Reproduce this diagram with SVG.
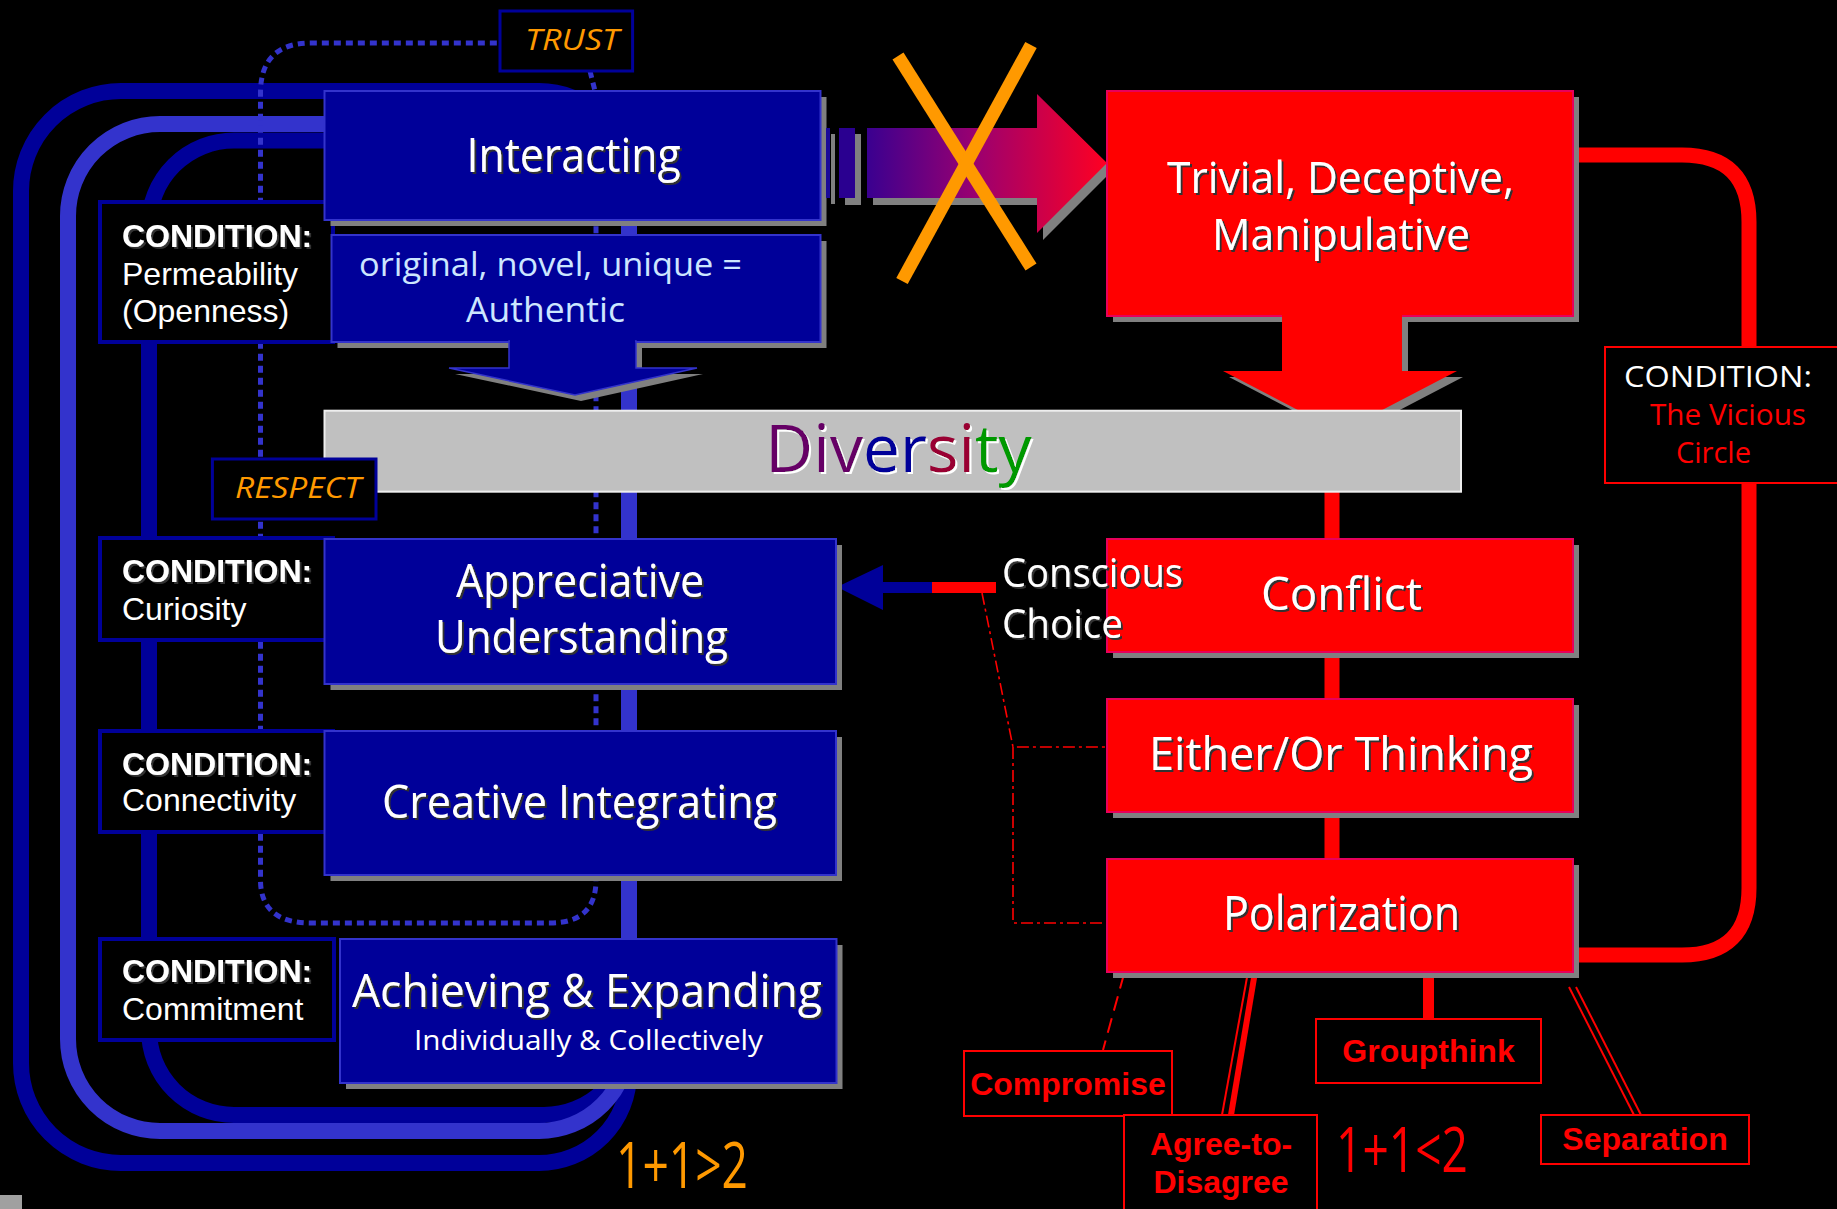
<svg xmlns="http://www.w3.org/2000/svg" width="1837" height="1209" viewBox="0 0 1837 1209">
<defs>
<style>
.bb{fill:#000099;stroke:#3333CC;stroke-width:2}
.rb{fill:#FF0000;stroke:#E8005A;stroke-width:2}
.sh{fill:#808080}
.cb{fill:#000000;stroke:#000099;stroke-width:4}
.rc{fill:#000000;stroke:#FF0000;stroke-width:2}
.t{font-family:"Open Sans","Noto Sans",sans-serif;fill:#FFFFFF;text-anchor:middle}
.a{font-family:"Liberation Sans",Arial,sans-serif}
.cw{fill:#FFFFFF;font-size:32px}
.rt{font-family:"Liberation Sans",Arial,sans-serif;font-weight:bold;font-size:32px;fill:#FF0000;text-anchor:middle}
.or{font-family:"Open Sans","Noto Sans",sans-serif;font-style:italic;fill:#FF9900;font-size:30px}
</style>
<filter id="ds" x="-5%" y="-10%" width="115%" height="130%"><feDropShadow dx="2" dy="2" stdDeviation="0.4" flood-color="#303030" flood-opacity="1"/></filter>
<filter id="dsw" x="-5%" y="-10%" width="115%" height="130%"><feDropShadow dx="2" dy="2" stdDeviation="0.3" flood-color="#FFFFFF" flood-opacity="1"/></filter>
<linearGradient id="grad" x1="0" y1="0" x2="1" y2="0">
<stop offset="0" stop-color="#3A0090"/>
<stop offset="0.45" stop-color="#9A0070"/>
<stop offset="1" stop-color="#FF0022"/>
</linearGradient>
</defs>
<rect x="0" y="0" width="1837" height="1209" fill="#000000"/>

<g id="connectors">
<path d="M121,91 H539 A90,90 0 0 1 629,181 V1073 A90,90 0 0 1 539,1163 H121 A100,100 0 0 1 21,1063 V191 A100,100 0 0 1 121,91 Z" fill="none" stroke="#000099" stroke-width="16"/>
<path d="M234,140.5 H544 A85,85 0 0 1 629,225.5 V1030 A85,85 0 0 1 544,1115 H234 A85,85 0 0 1 149,1030 V225.5 A85,85 0 0 1 234,140.5 Z" fill="none" stroke="#000099" stroke-width="16"/>
<path d="M160,124 H539 A90,90 0 0 1 629,214 V1041 A90,90 0 0 1 539,1131 H160 A92,92 0 0 1 68,1039 V216 A92,92 0 0 1 160,124 Z" fill="none" stroke="#3333CC" stroke-width="16"/>
<path d="M590,71 L596,95 V880 Q596,923 550,923 H311 Q260.5,923 260.5,880 V93 Q260.5,43 311,43 H500" fill="none" stroke="#3333CC" stroke-width="5" stroke-dasharray="7 5"/>
<path d="M1573,155 H1682 Q1749,155 1749,222 V888 Q1749,955 1682,955 H1574" fill="none" stroke="#FF0000" stroke-width="15"/>
<line x1="1332" y1="490" x2="1332" y2="860" stroke="#FF0000" stroke-width="15"/>
<path d="M982,593 L1013,747 H1107 M1013,747 V923 H1108" fill="none" stroke="#FF0000" stroke-width="1.6" stroke-dasharray="12 4 3 4"/>
<line x1="1124" y1="974" x2="1103" y2="1050" stroke="#FF0000" stroke-width="2" stroke-dasharray="15 8"/>
<line x1="1248" y1="972" x2="1222" y2="1115" stroke="#FF0000" stroke-width="2"/>
<line x1="1255" y1="972" x2="1231" y2="1115" stroke="#FF0000" stroke-width="6"/>
<line x1="1428.5" y1="972" x2="1428.5" y2="1019" stroke="#FF0000" stroke-width="11"/>
<line x1="1569" y1="987" x2="1634" y2="1115" stroke="#FF0000" stroke-width="2"/>
<line x1="1576" y1="987" x2="1641" y2="1115" stroke="#FF0000" stroke-width="2"/>
<polygon points="837,587 883,565 883,582 932,582 932,593 883,593 883,610" fill="#000099"/>
<rect x="932" y="582" width="64" height="11" fill="#FF0000"/>
</g>

<g id="cond-permeability">
<rect class="cb" x="100" y="202" width="233" height="140"/>
<text class="a cw" x="122" y="247" font-weight="bold" filter="url(#ds)">CONDITION:</text>
<text class="a cw" x="122" y="285">Permeability</text>
<text class="a cw" x="122" y="322">(Openness)</text>
</g>
<g id="cond-curiosity">
<rect class="cb" x="100" y="538" width="233" height="102"/>
<text class="a cw" x="122" y="582" font-weight="bold" filter="url(#ds)">CONDITION:</text>
<text class="a cw" x="122" y="620">Curiosity</text>
</g>
<g id="cond-connectivity">
<rect class="cb" x="100" y="731" width="233" height="101"/>
<text class="a cw" x="122" y="775" font-weight="bold" filter="url(#ds)">CONDITION:</text>
<text class="a cw" x="122" y="811">Connectivity</text>
</g>
<g id="cond-commitment">
<rect class="cb" x="100" y="939" width="234" height="101"/>
<text class="a cw" x="122" y="982" font-weight="bold" filter="url(#ds)">CONDITION:</text>
<text class="a cw" x="122" y="1020">Commitment</text>
</g>

<g id="trust">
<rect x="500" y="11" width="132.6" height="60" fill="#000000" stroke="#000099" stroke-width="3"/>
<text class="or" x="572" y="50" text-anchor="middle" textLength="94" lengthAdjust="spacingAndGlyphs">TRUST</text>
</g>

<g id="interacting">
<rect class="sh" x="330.5" y="97" width="496" height="129"/>
<rect class="bb" x="324.5" y="91" width="496" height="129"/>
<text class="t" x="573.6" y="172" font-size="48" textLength="214" lengthAdjust="spacingAndGlyphs" filter="url(#ds)">Interacting</text>
</g>
<g id="authentic">
<rect class="sh" x="337.5" y="241" width="489" height="107"/>
<polygon class="sh" points="515,348 642,348 642,374 703,374 581,401 455,374 515,374"/>
<rect class="bb" x="331.5" y="235" width="489" height="107"/>
<polygon points="509,341 636,341 636,368 697,368 575,395 449,368 509,368" fill="#000099" stroke="#3333CC" stroke-width="1.5"/>
<rect x="510" y="339" width="125" height="4" fill="#000099"/>
<text class="t" x="550.5" y="276" font-size="32" style="fill:#CCE6FF" textLength="383" lengthAdjust="spacingAndGlyphs">original, novel, unique =</text>
<text class="t" x="545.5" y="322" font-size="34" style="fill:#CCE6FF" textLength="159" lengthAdjust="spacingAndGlyphs">Authentic</text>
</g>

<g id="gradient-arrow">
<rect class="sh" x="831" y="134" width="4" height="70"/>
<rect class="sh" x="845" y="134" width="16" height="71"/>
<polygon class="sh" points="873,135 1043,135 1043,101 1113,170 1043,240 1043,205 873,205"/>
<rect x="826" y="128" width="4" height="70" fill="#1A0A99"/>
<rect x="839" y="128" width="16" height="70" fill="#2A0090"/>
<polygon points="867,128 1037,128 1037,94 1107,163 1037,233 1037,198 867,198" fill="url(#grad)"/>
</g>

<g id="trivial">
<rect class="sh" x="1113" y="97" width="466" height="225"/>
<polygon class="sh" points="1288,322 1408,322 1408,377 1463,377 1346,438 1229,377 1288,377"/>
<rect class="rb" x="1107" y="91" width="466" height="225"/>
<polygon points="1282,315 1402,315 1402,371 1457,371 1340,432 1223,371 1282,371" fill="#FF0000"/>
<text class="t" x="1340.5" y="193" font-size="43" textLength="347" lengthAdjust="spacingAndGlyphs" filter="url(#ds)">Trivial, Deceptive,</text>
<text class="t" x="1341" y="250" font-size="43" textLength="258" lengthAdjust="spacingAndGlyphs" filter="url(#ds)">Manipulative</text>
</g>

<g id="cross">
<line x1="898" y1="56" x2="1031" y2="267" stroke="#FF9900" stroke-width="13"/>
<line x1="1031" y1="45" x2="902" y2="281" stroke="#FF9900" stroke-width="13"/>
</g>

<g id="diversity">
<rect x="324.5" y="410.7" width="1136.5" height="81" fill="#C0C0C0" stroke="#EEEEEE" stroke-width="2"/>
<text x="898.5" y="472" font-family="Open Sans, Noto Sans, sans-serif" font-size="66" text-anchor="middle" filter="url(#dsw)"><tspan fill="#660066">Div</tspan><tspan fill="#000099">er</tspan><tspan fill="#990033">si</tspan><tspan fill="#009900">ty</tspan></text>
</g>

<g id="respect">
<rect x="212.4" y="459" width="163.6" height="60" fill="#000000" stroke="#000099" stroke-width="3"/>
<text class="or" x="298" y="498" text-anchor="middle" textLength="126" lengthAdjust="spacingAndGlyphs">RESPECT</text>
</g>

<g id="vicious">
<rect class="rc" x="1605" y="347" width="240" height="136"/>
<text x="1624" y="387" font-family="Open Sans, Noto Sans, sans-serif" font-size="30" fill="#FFFFFF" textLength="188" lengthAdjust="spacingAndGlyphs">CONDITION:</text>
<text x="1650" y="425" font-family="Open Sans, Noto Sans, sans-serif" font-size="30" fill="#FF0000" textLength="156" lengthAdjust="spacingAndGlyphs">The Vicious</text>
<text x="1676" y="463" font-family="Open Sans, Noto Sans, sans-serif" font-size="30" fill="#FF0000" textLength="75" lengthAdjust="spacingAndGlyphs">Circle</text>
</g>

<g id="appreciative">
<rect class="sh" x="330.5" y="545" width="511.5" height="145"/>
<rect class="bb" x="324.5" y="539" width="511.5" height="145"/>
<text class="t" x="580" y="597" font-size="46" textLength="248" lengthAdjust="spacingAndGlyphs" filter="url(#ds)">Appreciative</text>
<text class="t" x="581.5" y="653" font-size="46" textLength="293" lengthAdjust="spacingAndGlyphs" filter="url(#ds)">Understanding</text>
</g>
<g id="creative">
<rect class="sh" x="330.5" y="737" width="511.5" height="144"/>
<rect class="bb" x="324.5" y="731" width="511.5" height="144"/>
<text class="t" x="579.5" y="818" font-size="46" textLength="395" lengthAdjust="spacingAndGlyphs" filter="url(#ds)">Creative Integrating</text>
</g>
<g id="achieving">
<rect class="sh" x="346" y="945" width="496.5" height="144"/>
<rect class="bb" x="340" y="939" width="496.5" height="144"/>
<text class="t" x="587" y="1007" font-size="46" textLength="470" lengthAdjust="spacingAndGlyphs" filter="url(#ds)">Achieving &amp; Expanding</text>
<text class="t" x="588.5" y="1050" font-size="28" textLength="349" lengthAdjust="spacingAndGlyphs">Individually &amp; Collectively</text>
</g>

<g id="conflict">
<rect class="sh" x="1113" y="545" width="466" height="113"/>
<rect class="rb" x="1107" y="539" width="466" height="113"/>
<text class="t" x="1341.5" y="610" font-size="46" textLength="161" lengthAdjust="spacingAndGlyphs" filter="url(#ds)">Conflict</text>
</g>
<g id="conscious-choice">
<text x="1002" y="587" font-family="Open Sans, Noto Sans, sans-serif" font-size="40" fill="#FFFFFF" textLength="181" lengthAdjust="spacingAndGlyphs" filter="url(#ds)">Conscious</text>
<text x="1002" y="638" font-family="Open Sans, Noto Sans, sans-serif" font-size="40" fill="#FFFFFF" textLength="121" lengthAdjust="spacingAndGlyphs" filter="url(#ds)">Choice</text>
</g>
<g id="either-or">
<rect class="sh" x="1113" y="705" width="466" height="113"/>
<rect class="rb" x="1107" y="699" width="466" height="113"/>
<text class="t" x="1341" y="770" font-size="46" textLength="384" lengthAdjust="spacingAndGlyphs" filter="url(#ds)">Either/Or Thinking</text>
</g>
<g id="polarization">
<rect class="sh" x="1113" y="865" width="466" height="113"/>
<rect class="rb" x="1107" y="859" width="466" height="113"/>
<text class="t" x="1341.5" y="930" font-size="48" textLength="237" lengthAdjust="spacingAndGlyphs" filter="url(#ds)">Polarization</text>
</g>

<g id="compromise">
<rect class="rc" x="964" y="1051" width="208" height="65"/>
<text class="rt" x="1068" y="1095">Compromise</text>
</g>
<g id="agree">
<rect class="rc" x="1124" y="1115" width="193" height="100"/>
<text class="rt" x="1221" y="1155">Agree-to-</text>
<text class="rt" x="1221" y="1193">Disagree</text>
</g>
<g id="groupthink">
<rect class="rc" x="1316" y="1019" width="225" height="64"/>
<text class="rt" x="1428.5" y="1062">Groupthink</text>
</g>
<g id="separation">
<rect class="rc" x="1541" y="1115" width="208" height="49"/>
<text class="rt" x="1645" y="1150">Separation</text>
</g>

<g id="sum-greater">
<text x="616" y="1188" font-family="Open Sans, Noto Sans, sans-serif" font-size="64" fill="#FF9900" textLength="132" lengthAdjust="spacingAndGlyphs">1+1&gt;2</text>
</g>
<g id="sum-less">
<text x="1336" y="1172" font-family="Open Sans, Noto Sans, sans-serif" font-size="63" fill="#FF0000" textLength="132" lengthAdjust="spacingAndGlyphs">1+1&lt;2</text>
</g>
<rect x="0" y="1195" width="22" height="14" fill="#A0A0A0"/>
</svg>
